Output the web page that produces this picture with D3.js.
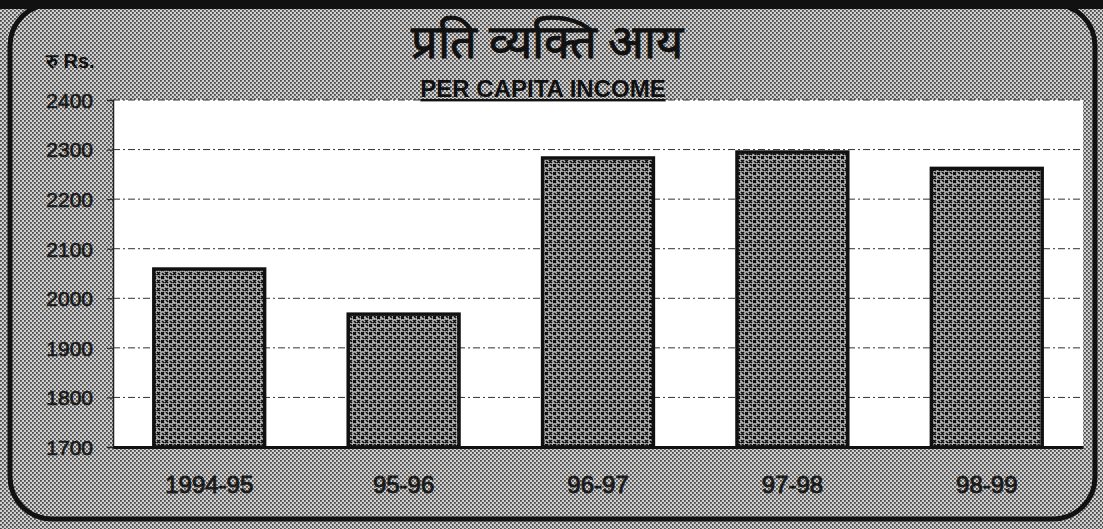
<!DOCTYPE html>
<html>
<head>
<meta charset="utf-8">
<script src="https://cdn.jsdelivr.net/npm/d3@7"></script>
<style>
  body { margin: 0; background: #b8b8b8; }
  svg { display: block; }
</style>
</head>
<body>
<div id="chart"></div>
<script>
// Per capita income values.
const years = ["1994-95", "95-96", "96-97", "97-98", "98-99"];
const income = [2059, 1968, 2283, 2295, 2262];
const yTicks = [1700, 1800, 1900, 2000, 2100, 2200, 2300, 2400];

const WIDTH = 1103, HEIGHT = 529;
const MARGIN = { top: 100, right: 20, bottom: 82, left: 113 };
const INNER_W = WIDTH - MARGIN.left - MARGIN.right;
const INNER_H = HEIGHT - MARGIN.top - MARGIN.bottom;
const FONT = "'Liberation Sans', Arial, sans-serif";

const svg = d3.select("#chart").append("svg")
    .attr("width", WIDTH)
    .attr("height", HEIGHT);

// Halftone-looking fills for the background and the bars.
const defs = svg.append("defs");
const bgPat = defs.append("pattern")
    .attr("id", "bg").attr("width", 4).attr("height", 4)
    .attr("patternUnits", "userSpaceOnUse");
bgPat.append("rect").attr("width", 4).attr("height", 4).attr("fill", "#d0d0d0");
bgPat.append("rect").attr("x", 0).attr("y", 0).attr("width", 1.8).attr("height", 1.8).attr("fill", "#4a4a4a");
bgPat.append("rect").attr("x", 2).attr("y", 2).attr("width", 1.8).attr("height", 1.8).attr("fill", "#4a4a4a");

const barPat = defs.append("pattern")
    .attr("id", "barfill").attr("width", 8).attr("height", 8)
    .attr("patternUnits", "userSpaceOnUse");
barPat.append("rect").attr("width", 8).attr("height", 8).attr("fill", "#b4b4b4");
barPat.append("path")
    .attr("d", "M0,0L3,3M3,0L0,3M4,4L7,7M7,4L4,7M5,0L7,2M1,5L3,7")
    .attr("stroke", "#0a0a0a").attr("stroke-width", 1.7);

svg.append("rect")
    .attr("width", WIDTH).attr("height", HEIGHT)
    .attr("fill", "url(#bg)");

// Dark band at the top of the scan and the rounded frame.
svg.append("rect")
    .attr("x", 0).attr("y", 0).attr("width", WIDTH).attr("height", 9)
    .attr("fill", "#111");
svg.append("rect")
    .attr("x", 10).attr("y", 4).attr("width", WIDTH - 18).attr("height", 515)
    .attr("rx", 42).attr("ry", 42)
    .attr("fill", "none").attr("stroke", "#111").attr("stroke-width", 5);

const inner = svg.append("g")
    .attr("transform", `translate(${MARGIN.left}, ${MARGIN.top})`);

const xScale = d3.scaleBand()
    .domain(years)
    .range([0, INNER_W])
    .paddingInner(0.43)
    .paddingOuter(0.21);

const yScale = d3.scaleLinear()
    .domain([1700, 2400])
    .range([INNER_H, 0]);

// White plot area.
inner.append("rect")
    .attr("width", INNER_W).attr("height", INNER_H)
    .attr("fill", "#fff");

// Dashed gridlines.
inner.append("g")
    .selectAll("line")
    .data(yTicks.slice(1))
    .join("line")
    .attr("x1", 0).attr("x2", INNER_W)
    .attr("y1", d => yScale(d)).attr("y2", d => yScale(d))
    .attr("stroke", "#333").attr("stroke-width", 1)
    .attr("stroke-dasharray", "7,3,2,3");

// Left axis with ticks.
const yAxis = inner.append("g")
    .call(d3.axisLeft(yScale).tickValues(yTicks).tickFormat(d3.format("d"))
        .tickSize(6).tickPadding(14));
yAxis.select(".domain").attr("stroke", "#222").attr("stroke-width", 1.5);
yAxis.selectAll(".tick line").attr("stroke", "#222");
yAxis.selectAll("text")
    .attr("font-family", FONT)
    .attr("font-size", 21)
    .attr("fill", "#1a1a1a")
    .attr("stroke", "#1a1a1a").attr("stroke-width", 0.7)
    .attr("dy", "0.35em");

// Bars.
inner.selectAll("rect.bar")
    .data(years)
    .join("rect")
    .attr("class", "bar")
    .attr("x", d => xScale(d))
    .attr("y", (d, i) => yScale(income[i]))
    .attr("width", xScale.bandwidth())
    .attr("height", (d, i) => INNER_H - yScale(income[i]))
    .attr("fill", "url(#barfill)")
    .attr("stroke", "#111").attr("stroke-width", 3.5);

// Bottom axis line and category labels.
const xAxis = inner.append("g")
    .attr("transform", `translate(0, ${INNER_H})`)
    .call(d3.axisBottom(xScale).tickSize(0).tickPadding(29));
xAxis.select(".domain").attr("stroke", "#111").attr("stroke-width", 3);
xAxis.selectAll("text")
    .attr("font-family", FONT)
    .attr("font-size", 24)
    .attr("fill", "#1a1a1a")
    .attr("stroke", "#1a1a1a").attr("stroke-width", 0.9);

// Titles and unit label.
svg.append("text")
    .text("प्रति व्यक्ति आय")
    .attr("x", 547).attr("y", 58)
    .attr("text-anchor", "middle")
    .attr("font-size", 47)
    .attr("fill", "#111")
    .attr("stroke", "#111").attr("stroke-width", 1);

svg.append("text")
    .text("PER CAPITA INCOME")
    .attr("x", 543).attr("y", 97)
    .attr("text-anchor", "middle")
    .attr("font-family", FONT)
    .attr("font-weight", "bold")
    .attr("font-size", 24)
    .attr("text-decoration", "underline")
    .attr("fill", "#111");

svg.append("text")
    .text("रु Rs.")
    .attr("x", 46).attr("y", 68)
    .attr("font-family", FONT)
    .attr("font-weight", "bold")
    .attr("font-size", 20)
    .attr("fill", "#111");
</script>
</body>
</html>
